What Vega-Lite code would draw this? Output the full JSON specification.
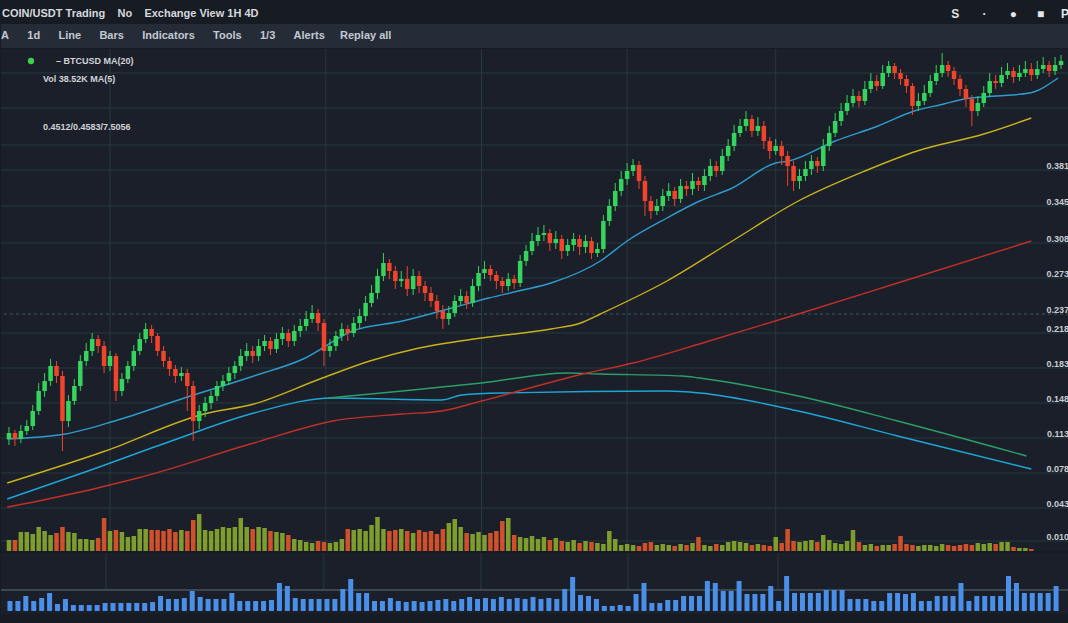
{
"$schema": "https://vega.github.io/schema/vega-lite/v6.json",
"background": "#171b22",
"padding": {"left": 0, "right": 0, "top": 0, "bottom": 12},
"spacing": 0,
"config": {"view": {"stroke": null}, "concat": {"spacing": 0}, "text": {"font": "Liberation Sans"}},
"datasets": {
"candles": [
{"i":0,"o":112,"h":124,"l":106,"c":118,"v":110},{"i":1,"o":118,"h":121,"l":105,"c":112,"v":110},{"i":2,"o":112,"h":126,"l":108,"c":120,"v":190},{"i":3,"o":120,"h":131,"l":116,"c":125,"v":190},{"i":4,"o":125,"h":146,"l":121,"c":140,"v":170},{"i":5,"o":140,"h":168,"l":136,"c":160,"v":240},{"i":6,"o":160,"h":178,"l":154,"c":170,"v":200},{"i":7,"o":170,"h":192,"l":165,"c":185,"v":160},{"i":8,"o":185,"h":190,"l":168,"c":175,"v":180},{"i":9,"o":175,"h":180,"l":100,"c":130,"v":240},
{"i":10,"o":130,"h":156,"l":124,"c":150,"v":190},{"i":11,"o":150,"h":172,"l":146,"c":165,"v":180},{"i":12,"o":165,"h":196,"l":160,"c":190,"v":120},{"i":13,"o":190,"h":208,"l":185,"c":200,"v":120},{"i":14,"o":200,"h":218,"l":195,"c":212,"v":110},{"i":15,"o":212,"h":216,"l":198,"c":205,"v":130},{"i":16,"o":205,"h":210,"l":178,"c":185,"v":330},{"i":17,"o":185,"h":200,"l":180,"c":195,"v":200},{"i":18,"o":195,"h":198,"l":150,"c":160,"v":210},{"i":19,"o":160,"h":178,"l":155,"c":172,"v":190},
{"i":20,"o":172,"h":190,"l":168,"c":185,"v":140},{"i":21,"o":185,"h":206,"l":180,"c":200,"v":150},{"i":22,"o":200,"h":218,"l":196,"c":212,"v":220},{"i":23,"o":212,"h":228,"l":208,"c":222,"v":220},{"i":24,"o":222,"h":226,"l":208,"c":215,"v":210},{"i":25,"o":215,"h":218,"l":195,"c":200,"v":210},{"i":26,"o":200,"h":205,"l":184,"c":190,"v":200},{"i":27,"o":190,"h":194,"l":175,"c":182,"v":220},{"i":28,"o":182,"h":186,"l":168,"c":175,"v":190},{"i":29,"o":175,"h":184,"l":170,"c":178,"v":210},
{"i":30,"o":178,"h":182,"l":140,"c":165,"v":200},{"i":31,"o":165,"h":170,"l":110,"c":130,"v":310},{"i":32,"o":130,"h":146,"l":122,"c":140,"v":370},{"i":33,"o":140,"h":154,"l":134,"c":148,"v":210},{"i":34,"o":148,"h":160,"l":142,"c":155,"v":200},{"i":35,"o":155,"h":170,"l":150,"c":165,"v":220},{"i":36,"o":165,"h":176,"l":160,"c":170,"v":240},{"i":37,"o":170,"h":184,"l":166,"c":178,"v":230},{"i":38,"o":178,"h":190,"l":172,"c":185,"v":240},{"i":39,"o":185,"h":202,"l":180,"c":195,"v":330},
{"i":40,"o":195,"h":208,"l":190,"c":200,"v":240},{"i":41,"o":200,"h":205,"l":188,"c":195,"v":220},{"i":42,"o":195,"h":212,"l":190,"c":205,"v":240},{"i":43,"o":205,"h":216,"l":200,"c":210,"v":230},{"i":44,"o":210,"h":214,"l":196,"c":202,"v":200},{"i":45,"o":202,"h":218,"l":198,"c":212,"v":190},{"i":46,"o":212,"h":224,"l":206,"c":218,"v":180},{"i":47,"o":218,"h":222,"l":204,"c":210,"v":160},{"i":48,"o":210,"h":226,"l":205,"c":220,"v":120},{"i":49,"o":220,"h":232,"l":214,"c":225,"v":110},
{"i":50,"o":225,"h":240,"l":220,"c":232,"v":90},{"i":51,"o":232,"h":246,"l":228,"c":238,"v":80},{"i":52,"o":238,"h":242,"l":220,"c":228,"v":100},{"i":53,"o":228,"h":232,"l":185,"c":200,"v":90},{"i":54,"o":200,"h":212,"l":194,"c":205,"v":80},{"i":55,"o":205,"h":220,"l":200,"c":215,"v":90},{"i":56,"o":215,"h":228,"l":210,"c":222,"v":120},{"i":57,"o":222,"h":226,"l":210,"c":218,"v":220},{"i":58,"o":218,"h":234,"l":214,"c":228,"v":210},{"i":59,"o":228,"h":242,"l":222,"c":235,"v":220},
{"i":60,"o":235,"h":255,"l":230,"c":248,"v":200},{"i":61,"o":248,"h":266,"l":244,"c":258,"v":260},{"i":62,"o":258,"h":282,"l":252,"c":275,"v":340},{"i":63,"o":275,"h":298,"l":270,"c":288,"v":220},{"i":64,"o":288,"h":292,"l":272,"c":280,"v":200},{"i":65,"o":280,"h":285,"l":262,"c":270,"v":210},{"i":66,"o":270,"h":280,"l":264,"c":272,"v":220},{"i":67,"o":272,"h":285,"l":255,"c":262,"v":200},{"i":68,"o":262,"h":282,"l":256,"c":275,"v":180},{"i":69,"o":275,"h":280,"l":258,"c":265,"v":210},
{"i":70,"o":265,"h":270,"l":250,"c":258,"v":190},{"i":71,"o":258,"h":264,"l":244,"c":250,"v":200},{"i":72,"o":250,"h":256,"l":232,"c":240,"v":170},{"i":73,"o":240,"h":246,"l":222,"c":232,"v":220},{"i":74,"o":232,"h":245,"l":226,"c":238,"v":280},{"i":75,"o":238,"h":256,"l":234,"c":250,"v":320},{"i":76,"o":250,"h":262,"l":246,"c":255,"v":240},{"i":77,"o":255,"h":260,"l":242,"c":248,"v":180},{"i":78,"o":248,"h":272,"l":244,"c":265,"v":170},{"i":79,"o":265,"h":285,"l":260,"c":278,"v":190},
{"i":80,"o":278,"h":290,"l":272,"c":282,"v":160},{"i":81,"o":282,"h":286,"l":270,"c":276,"v":180},{"i":82,"o":276,"h":280,"l":262,"c":270,"v":200},{"i":83,"o":270,"h":274,"l":258,"c":265,"v":300},{"i":84,"o":265,"h":278,"l":260,"c":272,"v":330},{"i":85,"o":272,"h":276,"l":262,"c":268,"v":160},{"i":86,"o":268,"h":296,"l":264,"c":290,"v":140},{"i":87,"o":290,"h":306,"l":285,"c":300,"v":130},{"i":88,"o":300,"h":318,"l":296,"c":310,"v":150},{"i":89,"o":310,"h":324,"l":305,"c":316,"v":120},
{"i":90,"o":316,"h":326,"l":310,"c":318,"v":140},{"i":91,"o":318,"h":322,"l":300,"c":308,"v":110},{"i":92,"o":308,"h":320,"l":302,"c":312,"v":130},{"i":93,"o":312,"h":316,"l":292,"c":300,"v":100},{"i":94,"o":300,"h":312,"l":295,"c":306,"v":90},{"i":95,"o":306,"h":318,"l":300,"c":312,"v":110},{"i":96,"o":312,"h":316,"l":296,"c":304,"v":80},{"i":97,"o":304,"h":316,"l":298,"c":310,"v":100},{"i":98,"o":310,"h":314,"l":292,"c":298,"v":90},{"i":99,"o":298,"h":308,"l":294,"c":302,"v":80},
{"i":100,"o":302,"h":336,"l":298,"c":330,"v":70},{"i":101,"o":330,"h":352,"l":325,"c":345,"v":200},{"i":102,"o":345,"h":368,"l":340,"c":360,"v":120},{"i":103,"o":360,"h":380,"l":355,"c":372,"v":60},{"i":104,"o":372,"h":388,"l":366,"c":380,"v":70},{"i":105,"o":380,"h":392,"l":375,"c":386,"v":60},{"i":106,"o":386,"h":390,"l":362,"c":370,"v":50},{"i":107,"o":370,"h":375,"l":335,"c":350,"v":80},{"i":108,"o":350,"h":355,"l":332,"c":340,"v":90},{"i":109,"o":340,"h":352,"l":336,"c":345,"v":60},
{"i":110,"o":345,"h":362,"l":340,"c":355,"v":70},{"i":111,"o":355,"h":368,"l":350,"c":360,"v":60},{"i":112,"o":360,"h":364,"l":345,"c":352,"v":50},{"i":113,"o":352,"h":372,"l":348,"c":365,"v":70},{"i":114,"o":365,"h":370,"l":355,"c":362,"v":60},{"i":115,"o":362,"h":378,"l":356,"c":370,"v":80},{"i":116,"o":370,"h":374,"l":360,"c":366,"v":140},{"i":117,"o":366,"h":382,"l":360,"c":375,"v":60},{"i":118,"o":375,"h":392,"l":370,"c":385,"v":50},{"i":119,"o":385,"h":390,"l":374,"c":380,"v":70},
{"i":120,"o":380,"h":402,"l":376,"c":395,"v":60},{"i":121,"o":395,"h":412,"l":390,"c":405,"v":90},{"i":122,"o":405,"h":426,"l":400,"c":418,"v":100},{"i":123,"o":418,"h":432,"l":414,"c":425,"v":90},{"i":124,"o":425,"h":440,"l":420,"c":432,"v":80},{"i":125,"o":432,"h":436,"l":414,"c":420,"v":60},{"i":126,"o":420,"h":434,"l":415,"c":425,"v":70},{"i":127,"o":425,"h":430,"l":402,"c":410,"v":60},{"i":128,"o":410,"h":414,"l":392,"c":400,"v":50},{"i":129,"o":400,"h":412,"l":396,"c":405,"v":140},
{"i":130,"o":405,"h":410,"l":386,"c":395,"v":80},{"i":131,"o":395,"h":400,"l":365,"c":385,"v":220},{"i":132,"o":385,"h":390,"l":360,"c":370,"v":100},{"i":133,"o":370,"h":382,"l":362,"c":375,"v":90},{"i":134,"o":375,"h":390,"l":370,"c":382,"v":100},{"i":135,"o":382,"h":396,"l":376,"c":390,"v":110},{"i":136,"o":390,"h":394,"l":378,"c":385,"v":90},{"i":137,"o":385,"h":412,"l":380,"c":405,"v":160},{"i":138,"o":405,"h":425,"l":400,"c":418,"v":110},{"i":139,"o":418,"h":438,"l":414,"c":430,"v":80},
{"i":140,"o":430,"h":448,"l":425,"c":440,"v":70},{"i":141,"o":440,"h":456,"l":436,"c":448,"v":100},{"i":142,"o":448,"h":462,"l":444,"c":455,"v":210},{"i":143,"o":455,"h":460,"l":444,"c":450,"v":90},{"i":144,"o":450,"h":470,"l":446,"c":462,"v":60},{"i":145,"o":462,"h":478,"l":458,"c":470,"v":70},{"i":146,"o":470,"h":476,"l":460,"c":465,"v":50},{"i":147,"o":465,"h":486,"l":462,"c":478,"v":60},{"i":148,"o":478,"h":490,"l":474,"c":485,"v":60},{"i":149,"o":485,"h":488,"l":472,"c":478,"v":70},
{"i":150,"o":478,"h":482,"l":466,"c":472,"v":150},{"i":151,"o":472,"h":476,"l":458,"c":465,"v":70},{"i":152,"o":465,"h":468,"l":436,"c":445,"v":60},{"i":153,"o":445,"h":458,"l":440,"c":450,"v":50},{"i":154,"o":450,"h":466,"l":446,"c":458,"v":60},{"i":155,"o":458,"h":476,"l":454,"c":470,"v":60},{"i":156,"o":470,"h":486,"l":466,"c":478,"v":50},{"i":157,"o":478,"h":498,"l":474,"c":486,"v":70},{"i":158,"o":486,"h":490,"l":474,"c":480,"v":60},{"i":159,"o":480,"h":484,"l":466,"c":472,"v":50},
{"i":160,"o":472,"h":476,"l":455,"c":462,"v":60},{"i":161,"o":462,"h":466,"l":444,"c":452,"v":70},{"i":162,"o":452,"h":456,"l":425,"c":440,"v":60},{"i":163,"o":440,"h":455,"l":435,"c":448,"v":80},{"i":164,"o":448,"h":465,"l":444,"c":458,"v":70},{"i":165,"o":458,"h":478,"l":454,"c":470,"v":80},{"i":166,"o":470,"h":476,"l":462,"c":468,"v":70},{"i":167,"o":468,"h":484,"l":464,"c":476,"v":90},{"i":168,"o":476,"h":488,"l":472,"c":480,"v":90},{"i":169,"o":480,"h":484,"l":468,"c":474,"v":40},
{"i":170,"o":474,"h":486,"l":470,"c":478,"v":30},{"i":171,"o":478,"h":490,"l":474,"c":482,"v":30},{"i":172,"o":482,"h":488,"l":470,"c":476,"v":20},{"i":173,"o":476,"h":490,"l":472,"c":482,"v":0},{"i":174,"o":482,"h":494,"l":478,"c":486,"v":0},{"i":175,"o":486,"h":490,"l":474,"c":480,"v":0},{"i":176,"o":480,"h":494,"l":476,"c":486,"v":0},{"i":177,"o":486,"h":496,"l":482,"c":490,"v":0}
],
"lines": [
{"s":"ma7","i":-0.3,"p":112},{"s":"ma7","i":2.8,"p":113},{"s":"ma7","i":9.5,"p":117},{"s":"ma7","i":17.8,"p":130},{"s":"ma7","i":29.5,"p":153},{"s":"ma7","i":41.2,"p":175},{"s":"ma7","i":49.5,"p":192},{"s":"ma7","i":57.8,"p":220},{"s":"ma7","i":66.2,"p":230},{"s":"ma7","i":74.5,"p":243},{"s":"ma7","i":80.7,"p":253},{"s":"ma7","i":85.7,"p":260},{"s":"ma7","i":91.2,"p":268},{"s":"ma7","i":99.5,"p":290},{"s":"ma7","i":104,"p":310},{"s":"ma7","i":110.7,"p":333},{"s":"ma7","i":116.2,"p":350},{"s":"ma7","i":121.7,"p":363},{"s":"ma7","i":129,"p":388},{"s":"ma7","i":131.2,"p":390},{"s":"ma7","i":139,"p":410},{"s":"ma7","i":146.2,"p":425},{"s":"ma7","i":152.3,"p":440},{"s":"ma7","i":157.3,"p":447},{"s":"ma7","i":160.7,"p":452},{"s":"ma7","i":166.2,"p":455},{"s":"ma7","i":171.7,"p":458},{"s":"ma7","i":176.5,"p":473},
{"s":"ma25","i":-0.3,"p":68},{"s":"ma25","i":16.2,"p":100},{"s":"ma25","i":32.8,"p":137},{"s":"ma25","i":41.2,"p":147},{"s":"ma25","i":52.3,"p":172},{"s":"ma25","i":60.7,"p":190},{"s":"ma25","i":69,"p":203},{"s":"ma25","i":79.5,"p":213},{"s":"ma25","i":91.2,"p":222},{"s":"ma25","i":96.2,"p":228},{"s":"ma25","i":99.5,"p":237},{"s":"ma25","i":110.7,"p":270},{"s":"ma25","i":121.7,"p":310},{"s":"ma25","i":132.8,"p":350},{"s":"ma25","i":144,"p":380},{"s":"ma25","i":152.8,"p":400},{"s":"ma25","i":164,"p":417},{"s":"ma25","i":172,"p":433},
{"s":"ma99","i":-0.3,"p":52},{"s":"ma99","i":13.3,"p":80},{"s":"ma99","i":27.3,"p":110},{"s":"ma99","i":41.2,"p":138},{"s":"ma99","i":54.5,"p":153},{"s":"ma99","i":72.8,"p":151},{"s":"ma99","i":76.2,"p":156},{"s":"ma99","i":82.8,"p":158},{"s":"ma99","i":110.7,"p":160},{"s":"ma99","i":116.2,"p":158},{"s":"ma99","i":132.8,"p":140},{"s":"ma99","i":149.5,"p":115},{"s":"ma99","i":172,"p":82},
{"s":"ema","i":53.7,"p":153},{"s":"ema","i":66.2,"p":160},{"s":"ema","i":79.5,"p":168},{"s":"ema","i":94,"p":178},{"s":"ema","i":99.5,"p":177},{"s":"ema","i":113.3,"p":175},{"s":"ema","i":116.2,"p":173},{"s":"ema","i":132.8,"p":155},{"s":"ema","i":149.5,"p":130},{"s":"ema","i":171.2,"p":95},
{"s":"ema200","i":-0.3,"p":44},{"s":"ema200","i":5,"p":50},{"s":"ema200","i":21.7,"p":73},{"s":"ema200","i":41.2,"p":108},{"s":"ema200","i":54.5,"p":130},{"s":"ema200","i":66.2,"p":137},{"s":"ema200","i":72.8,"p":140},{"s":"ema200","i":79.5,"p":150},{"s":"ema200","i":97.3,"p":178},{"s":"ema200","i":105,"p":188},{"s":"ema200","i":117.8,"p":210},{"s":"ema200","i":132.8,"p":237},{"s":"ema200","i":149.5,"p":268},{"s":"ema200","i":172,"p":310}
],
"blue": [
{"j":0,"h":10},{"j":1,"h":10},{"j":2,"h":15},{"j":3,"h":10},{"j":4,"h":13},{"j":5,"h":18},{"j":6,"h":7},{"j":7,"h":12},{"j":8,"h":6},{"j":9,"h":6},{"j":10,"h":6},{"j":11,"h":6},{"j":12,"h":8},{"j":13,"h":8},{"j":14,"h":8},{"j":15,"h":8},{"j":16,"h":8},{"j":17,"h":8},{"j":18,"h":9},{"j":19,"h":15},
{"j":20,"h":12},{"j":21,"h":12},{"j":22,"h":13},{"j":23,"h":20},{"j":24,"h":14},{"j":25,"h":12},{"j":26,"h":12},{"j":27,"h":12},{"j":28,"h":18},{"j":29,"h":10},{"j":30,"h":10},{"j":31,"h":10},{"j":32,"h":10},{"j":33,"h":11},{"j":34,"h":28},{"j":35,"h":25},{"j":36,"h":13},{"j":37,"h":12},{"j":38,"h":12},{"j":39,"h":12},
{"j":40,"h":12},{"j":41,"h":12},{"j":42,"h":22},{"j":43,"h":32},{"j":44,"h":18},{"j":45,"h":18},{"j":46,"h":10},{"j":47,"h":10},{"j":48,"h":13},{"j":49,"h":10},{"j":50,"h":9},{"j":51,"h":10},{"j":52,"h":9},{"j":53,"h":10},{"j":54,"h":11},{"j":55,"h":12},{"j":56,"h":10},{"j":57,"h":12},{"j":58,"h":14},{"j":59,"h":12},
{"j":60,"h":13},{"j":61,"h":12},{"j":62,"h":14},{"j":63,"h":12},{"j":64,"h":13},{"j":65,"h":12},{"j":66,"h":14},{"j":67,"h":12},{"j":68,"h":13},{"j":69,"h":12},{"j":70,"h":22},{"j":71,"h":34},{"j":72,"h":16},{"j":73,"h":15},{"j":74,"h":12},{"j":75,"h":5},{"j":76,"h":5},{"j":77,"h":6},{"j":78,"h":5},{"j":79,"h":17},
{"j":80,"h":28},{"j":81,"h":8},{"j":82,"h":8},{"j":83,"h":11},{"j":84,"h":11},{"j":85,"h":15},{"j":86,"h":15},{"j":87,"h":15},{"j":88,"h":30},{"j":89,"h":28},{"j":90,"h":20},{"j":91,"h":20},{"j":92,"h":30},{"j":93,"h":17},{"j":94,"h":17},{"j":95,"h":17},{"j":96,"h":25},{"j":97,"h":10},{"j":98,"h":35},{"j":99,"h":18},
{"j":100,"h":18},{"j":101,"h":18},{"j":102,"h":18},{"j":103,"h":21},{"j":104,"h":21},{"j":105,"h":21},{"j":106,"h":12},{"j":107,"h":12},{"j":108,"h":12},{"j":109,"h":10},{"j":110,"h":10},{"j":111,"h":18},{"j":112,"h":18},{"j":113,"h":17},{"j":114,"h":18},{"j":115,"h":10},{"j":116,"h":10},{"j":117,"h":15},{"j":118,"h":15},{"j":119,"h":15},
{"j":120,"h":28},{"j":121,"h":10},{"j":122,"h":15},{"j":123,"h":15},{"j":124,"h":15},{"j":125,"h":15},{"j":126,"h":35},{"j":127,"h":28},{"j":128,"h":18},{"j":129,"h":18},{"j":130,"h":18},{"j":131,"h":18},{"j":132,"h":25}
],
"grid": [{"p":478},{"p":443},{"p":406},{"p":381},{"p":345},{"p":308},{"p":273},{"p":218},{"p":183},{"p":148},{"p":113},{"p":78},{"p":43},{"p":10}],
"vgrid": [{"t":17},{"t":53.3},{"t":79.5},{"t":104},{"t":129}],
"labels": [{"p":381,"t":"0.381"},{"p":345,"t":"0.345"},{"p":308,"t":"0.308"},{"p":273,"t":"0.273"},{"p":237,"t":"0.237"},{"p":218,"t":"0.218"},{"p":183,"t":"0.183"},{"p":148,"t":"0.148"},{"p":113,"t":"0.113"},{"p":78,"t":"0.078"},{"p":43,"t":"0.043"},{"p":10,"t":"0.010"}]
},
"vconcat": [
{
"width": 1068, "height": 24,
"data": {"values": [{"t": "COIN/USDT Trading\u00a0\u00a0\u00a0\u00a0No\u00a0\u00a0\u00a0\u00a0Exchange View 1H 4D", "r": "S\u00a0\u00a0\u00a0\u00a0\u00a0\u00a0\u00a0·\u00a0\u00a0\u00a0\u00a0\u00a0\u00a0\u00a0●\u00a0\u00a0\u00a0\u00a0\u00a0\u00a0■\u00a0\u00a0\u00a0\u00a0\u00a0P"}]},
"layer": [
{"mark": {"type": "text", "align": "left", "baseline": "middle", "fontSize": 11, "fontWeight": "bold", "color": "#d5d9df"},
 "encoding": {"x": {"value": 1}, "y": {"value": 14}, "text": {"field": "t"}}},
{"mark": {"type": "text", "align": "right", "baseline": "middle", "fontSize": 12, "fontWeight": "bold", "color": "#e2e5ea"},
 "encoding": {"x": {"value": "width"}, "y": {"value": 14}, "text": {"field": "r"}}}
]
},
{
"width": 1068, "height": 24,
"view": {"fill": "#262c37", "stroke": null},
"data": {"values": [{"t": "A\u00a0\u00a0\u00a0\u00a0\u00a0\u00a01d\u00a0\u00a0\u00a0\u00a0\u00a0\u00a0Line\u00a0\u00a0\u00a0\u00a0\u00a0\u00a0Bars\u00a0\u00a0\u00a0\u00a0\u00a0\u00a0Indicators\u00a0\u00a0\u00a0\u00a0\u00a0\u00a0Tools\u00a0\u00a0\u00a0\u00a0\u00a0\u00a01/3\u00a0\u00a0\u00a0\u00a0\u00a0\u00a0Alerts\u00a0\u00a0\u00a0\u00a0\u00a0Replay all"}]},
"mark": {"type": "text", "align": "left", "baseline": "middle", "fontSize": 11, "fontWeight": "bold", "color": "#c3c9d2"},
"encoding": {"x": {"value": 0}, "y": {"value": 12}, "text": {"field": "t"}}
},
{
"width": 1068, "height": 502,
"view": {"fill": "#1b1f29", "stroke": null},
"resolve": {"scale": {"y": "independent", "color": "independent"}},
"layer": [
{"data": {"name": "grid"}, "mark": {"type": "rule", "color": "#243a40", "strokeWidth": 1},
 "encoding": {"y": {"field": "p", "type": "quantitative", "scale": {"domain": [0, 502], "nice": false, "zero": false}, "axis": null}}},
{"data": {"values": [{"p": 237}]}, "mark": {"type": "rule", "color": "#3f5a60", "strokeWidth": 1, "strokeDash": [3, 3]},
 "encoding": {"y": {"field": "p", "type": "quantitative", "scale": {"domain": [0, 502], "nice": false, "zero": false}, "axis": null}}},
{"data": {"name": "vgrid"}, "mark": {"type": "rule", "color": "#243a40", "strokeWidth": 1},
 "encoding": {"x": {"field": "t", "type": "quantitative", "scale": {"domain": [-0.5, 177.5], "nice": false, "zero": false}, "axis": null}}},
{"data": {"name": "candles"}, "mark": {"type": "bar", "width": 4.5, "opacity": 0.9},
 "encoding": {
  "x": {"field": "i", "type": "quantitative", "scale": {"domain": [-0.5, 177.5], "nice": false, "zero": false}, "axis": null},
  "y": {"field": "v", "type": "quantitative", "scale": {"domain": [0, 5020], "nice": false}, "axis": null},
  "color": {"condition": {"test": "datum.c >= datum.o", "value": "#8aab2c"}, "value": "#e4552b"}}},
{"data": {"name": "lines"}, "mark": {"type": "line", "strokeWidth": 1.4, "interpolate": "monotone"},
 "encoding": {
  "x": {"field": "i", "type": "quantitative", "scale": {"domain": [-0.5, 177.5], "nice": false, "zero": false}, "axis": null},
  "y": {"field": "p", "type": "quantitative", "scale": {"domain": [0, 502], "nice": false, "zero": false}, "axis": null},
  "color": {"field": "s", "type": "nominal", "scale": {"domain": ["ma7", "ma25", "ma99", "ema", "ema200"], "range": ["#2e9ccc", "#c8b21c", "#1ea6d6", "#2b9f6a", "#c23028"]}, "legend": null}}},
{"data": {"name": "candles"}, "mark": {"type": "rule", "strokeWidth": 1},
 "encoding": {
  "x": {"field": "i", "type": "quantitative", "scale": {"domain": [-0.5, 177.5], "nice": false, "zero": false}, "axis": null},
  "y": {"field": "l", "type": "quantitative", "scale": {"domain": [0, 502], "nice": false, "zero": false}, "axis": null},
  "y2": {"field": "h"},
  "color": {"condition": {"test": "datum.c >= datum.o", "value": "#35d45c"}, "value": "#f2432b"}}},
{"data": {"name": "candles"}, "mark": {"type": "bar", "width": 4.5},
 "encoding": {
  "x": {"field": "i", "type": "quantitative", "scale": {"domain": [-0.5, 177.5], "nice": false, "zero": false}, "axis": null},
  "y": {"field": "o", "type": "quantitative", "scale": {"domain": [0, 502], "nice": false, "zero": false}, "axis": null},
  "y2": {"field": "c"},
  "color": {"condition": {"test": "datum.c >= datum.o", "value": "#35d45c"}, "value": "#f2432b"}}},
{"data": {"name": "labels"}, "mark": {"type": "text", "align": "right", "baseline": "middle", "dy": -4, "fontSize": 9, "fontWeight": "bold", "color": "#c9cdd3"},
 "encoding": {
  "x": {"value": "width"},
  "y": {"field": "p", "type": "quantitative", "scale": {"domain": [0, 502], "nice": false, "zero": false}, "axis": null},
  "text": {"field": "t"}}},
{"data": {"values": [{"t": "•"}]}, "mark": {"type": "point", "filled": true, "size": 40, "color": "#3fd04a", "opacity": 1},
 "encoding": {"x": {"value": 30}, "y": {"value": 12}}},
{"data": {"values": [{"t": "– BTCUSD MA(20)"}]}, "mark": {"type": "text", "align": "left", "baseline": "middle", "fontSize": 9, "fontWeight": "bold", "color": "#cfd3d8"},
 "encoding": {"x": {"value": 55}, "y": {"value": 12}, "text": {"field": "t"}}},
{"data": {"values": [{"t": "Vol 38.52K  MA(5)"}]}, "mark": {"type": "text", "align": "left", "baseline": "middle", "fontSize": 9, "fontWeight": "bold", "color": "#cfd3d8"},
 "encoding": {"x": {"value": 42}, "y": {"value": 30}, "text": {"field": "t"}}},
{"data": {"values": [{"t": "0.4512/0.4583/7.5056"}]}, "mark": {"type": "text", "align": "left", "baseline": "middle", "fontSize": 9, "fontWeight": "bold", "color": "#cfd3d8"},
 "encoding": {"x": {"value": 42}, "y": {"value": 78}, "text": {"field": "t"}}}
]
},
{
"width": 1068, "height": 61,
"view": {"fill": "#1b1f29", "stroke": null},
"resolve": {"scale": {"x": "independent"}},
"layer": [
{"data": {"name": "vgrid"}, "mark": {"type": "rule", "color": "#243a40", "strokeWidth": 1},
 "encoding": {
  "x": {"field": "t", "type": "quantitative", "scale": {"domain": [-0.5, 177.5], "nice": false, "zero": false}, "axis": null},
  "y": {"datum": 21, "type": "quantitative", "scale": {"domain": [-3, 58], "nice": false, "zero": false}, "axis": null},
  "y2": {"datum": 58}}},
{"data": {"values": [{"lv": 21}]}, "mark": {"type": "rule", "color": "#5f7275", "strokeWidth": 1},
 "encoding": {"y": {"field": "lv", "type": "quantitative", "scale": {"domain": [-3, 58], "nice": false, "zero": false}, "axis": null}}},
{"data": {"name": "blue"}, "mark": {"type": "bar", "width": 5, "color": "#4a90e8"},
 "encoding": {
  "x": {"field": "j", "type": "quantitative", "scale": {"domain": [-0.5, 133], "nice": false, "zero": false}, "axis": null},
  "y": {"field": "h", "type": "quantitative", "scale": {"domain": [-3, 58], "nice": false, "zero": false}, "axis": null},
  "y2": {"datum": 0}}}
]
}
]
}
